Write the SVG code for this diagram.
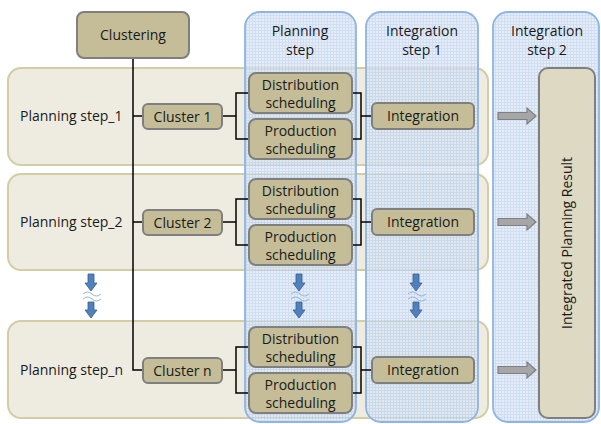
<svg xmlns="http://www.w3.org/2000/svg" width="601" height="424" viewBox="0 0 601 424">
<defs>
<pattern id="grid" width="3" height="3" patternUnits="userSpaceOnUse">
<rect width="3" height="3" fill="#dce6f4"/>
<path d="M0,0.5 H3 M0.5,0 V3" stroke="#bcd1ed" stroke-width="1"/>
</pattern>
<style>
text{font-family:"Open Sans","Liberation Sans",Arial,sans-serif;font-size:14px;fill:#1a1a1a;text-anchor:middle}
.row{fill:#eeece1;stroke:#d3cca5;stroke-width:2}
.col{fill:url(#grid);fill-opacity:0.72;stroke:#8eb4e3;stroke-width:1.8}
.box{fill:#c4bd97;stroke:#7f7f7f;stroke-width:2}
.res{fill:#ddd9c3;stroke:#7f7f7f;stroke-width:2}
.con{fill:none;stroke:#000;stroke-width:1.5}
.garrow{fill:#a6a6a6;stroke:#7f7f7f;stroke-width:1.2}
.barrow{fill:#4f81bd;stroke:#385d8a;stroke-width:0.8}
.wave{fill:none;stroke:#95b3d7;stroke-width:1}
.lbl{text-anchor:start}
</style>
</defs>
<g id="rows">
<g id="row1"><rect class="row" x="8" y="68" width="480" height="97" rx="13"/><text class="lbl" x="20" y="121">Planning step_1</text></g>
<g id="row2"><rect class="row" x="8" y="174" width="480" height="96" rx="13"/><text class="lbl" x="20" y="227">Planning step_2</text></g>
<g id="rown"><rect class="row" x="8" y="321" width="480" height="97" rx="13"/><text class="lbl" x="20" y="375">Planning step_n</text></g>
</g>
<g id="columns">
<g id="col-planning"><rect class="col" x="245" y="12" width="111" height="410" rx="15"/><text x="300" y="36">Planning</text><text x="300" y="55">step</text></g>
<g id="col-int1"><rect class="col" x="366" y="12" width="112" height="410" rx="15"/><text x="422" y="36">Integration</text><text x="422" y="55">step 1</text></g>
<g id="col-int2"><rect class="col" x="493" y="12" width="106" height="410" rx="15"/><text x="547" y="36">Integration</text><text x="547" y="55">step 2</text></g>
</g>
<g id="connectors">
<path class="con" d="M133,58 V370 H143 M133,116 H143 M133,222 H143"/>
<path class="con" d="M222,116 H236 M249,93 H236 V139 H249 M352,93 H361 V139 H352 M361,116 H372"/>
<path class="con" d="M222,222 H236 M249,199 H236 V245 H249 M352,199 H361 V245 H352 M361,222 H372"/>
<path class="con" d="M222,370 H236 M249,347 H236 V393 H249 M352,347 H361 V393 H352 M361,370 H372"/>
<polygon class="garrow" points="498,112.5 527,112.5 527,108 536,116 527,124 527,119.5 498,119.5"/>
<polygon class="garrow" points="498,218.5 527,218.5 527,214 536,222 527,230 527,225.5 498,225.5"/>
<polygon class="garrow" points="498,366.5 527,366.5 527,362 536,370 527,378 527,373.5 498,373.5"/>
<g id="cont-left">
<polygon class="barrow" points="88,274 94,274 94,283 97,283 91,291 85,283 88,283"/>
<path class="wave" d="M83,294 q4.5,-4 9,0 t9,0 M83,299 q4.5,-4 9,0 t9,0"/>
<polygon class="barrow" points="88,302 94,302 94,310 97,310 91,318 85,310 88,310"/>
</g>
<g id="cont-plan">
<polygon class="barrow" points="296,274 302,274 302,283 305,283 299,291 293,283 296,283"/>
<path class="wave" d="M291,294 q4.5,-4 9,0 t9,0 M291,299 q4.5,-4 9,0 t9,0"/>
<polygon class="barrow" points="296,302 302,302 302,310 305,310 299,318 293,310 296,310"/>
</g>
<g id="cont-int">
<polygon class="barrow" points="413,274 419,274 419,283 422,283 416,291 410,283 413,283"/>
<path class="wave" d="M408,294 q4.5,-4 9,0 t9,0 M408,299 q4.5,-4 9,0 t9,0"/>
<polygon class="barrow" points="413,302 419,302 419,310 422,310 416,318 410,310 413,310"/>
</g>
</g>
<g id="clustering"><rect class="box" x="77" y="12" width="112" height="46" rx="7"/><text x="133" y="40">Clustering</text></g>
<g id="cluster1"><rect class="box" x="143" y="104" width="79" height="25" rx="5"/><text x="182.5" y="121.5">Cluster 1</text></g>
<g id="cluster2"><rect class="box" x="143" y="210" width="79" height="25" rx="5"/><text x="182.5" y="227.5">Cluster 2</text></g>
<g id="clustern"><rect class="box" x="143" y="358" width="79" height="25" rx="5"/><text x="182.5" y="375.5">Cluster n</text></g>
<g id="dist1"><rect class="box" x="249" y="73" width="103" height="40" rx="7"/><text x="300.5" y="90">Distribution</text><text x="300.5" y="108">scheduling</text></g>
<g id="prod1"><rect class="box" x="249" y="119" width="103" height="40" rx="7"/><text x="300.5" y="136">Production</text><text x="300.5" y="154">scheduling</text></g>
<g id="dist2"><rect class="box" x="249" y="179" width="103" height="40" rx="7"/><text x="300.5" y="196">Distribution</text><text x="300.5" y="214">scheduling</text></g>
<g id="prod2"><rect class="box" x="249" y="225" width="103" height="40" rx="7"/><text x="300.5" y="242">Production</text><text x="300.5" y="260">scheduling</text></g>
<g id="distn"><rect class="box" x="249" y="327" width="103" height="40" rx="7"/><text x="300.5" y="344">Distribution</text><text x="300.5" y="362">scheduling</text></g>
<g id="prodn"><rect class="box" x="249" y="373" width="103" height="40" rx="7"/><text x="300.5" y="390">Production</text><text x="300.5" y="408">scheduling</text></g>
<g id="integ1"><rect class="box" x="372" y="103" width="102" height="26" rx="5"/><text x="423" y="121">Integration</text></g>
<g id="integ2"><rect class="box" x="372" y="209" width="102" height="26" rx="5"/><text x="423" y="227">Integration</text></g>
<g id="integn"><rect class="box" x="372" y="357" width="102" height="26" rx="5"/><text x="423" y="375">Integration</text></g>
<g id="result"><rect class="res" x="539" y="68" width="56" height="350" rx="9"/><text transform="translate(572,243) rotate(-90)" x="0" y="0">Integrated Planning Result</text></g>
</svg>
